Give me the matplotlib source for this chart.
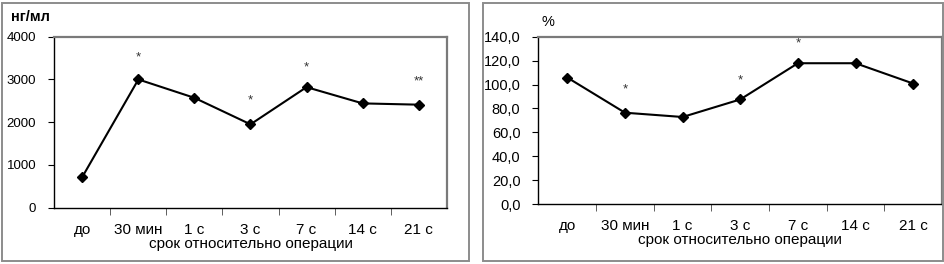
import matplotlib.pyplot as plt
import matplotlib.patches as mpatches
from matplotlib.ticker import FixedLocator, NullFormatter
import numpy as np

plt.rcParams['font.family'] = ['Liberation Sans', 'DejaVu Sans']

categories = ['до', '30 мин', '1 с', '3 с', '7 с', '14 с', '21 с']
conc = [720, 3000, 2570, 1950, 2820, 2440, 2410]
pct = [105.8, 76.4, 72.8, 87.5, 117.8, 117.8, 100.8]

conc_marks = ['', '*', '', '*', '*', '', '**']
conc_mark_y = [0, 3520, 0, 2510, 3270, 0, 2960]
pct_marks = ['', '*', '', '*', '*', '', '']
pct_mark_y = [0, 96, 0, 103, 134, 0, 0]

W, H = 945, 264
fig = plt.figure(figsize=(W / 100, H / 100), dpi=100)
fig.patch.set_facecolor('white')


def px(x0, y0, x1, y1):
    # pixel box (top-left origin) -> figure fraction rect
    return [x0 / W, 1 - y1 / H, (x1 - x0) / W, (y1 - y0) / H]


# outer frames of the two panels
for x0, x1 in [(2, 469), (483, 943)]:
    fig.patches.append(mpatches.Rectangle((x0 / W, 1 - 261 / H), (x1 - x0) / W, 258 / H,
                                          transform=fig.transFigure, fill=False,
                                          edgecolor='#8c8c8c', lw=1.4))


def panel(rect, vals, ylim, yticks, yfmt, marks, mark_y, ylab_size, unit, unit_pos, unit_bold):
    ax = fig.add_axes(rect)
    x = np.arange(len(categories))
    ax.plot(x, vals, color='black', lw=1.5, marker='D', ms=5.5, zorder=3, clip_on=False)
    for xi, m, my in zip(x, marks, mark_y):
        if m:
            ax.text(xi, my, m, ha='center', va='center', fontsize=9.5, color='#333333')
    ax.set_xlim(-0.5, len(categories) - 0.5)
    ax.set_ylim(*ylim)
    ax.set_yticks(yticks)
    ax.set_yticklabels([yfmt(v) for v in yticks], fontsize=ylab_size)
    ax.set_xticks(x)
    ax.set_xticklabels(categories, fontsize=11)
    ax.xaxis.set_minor_locator(FixedLocator(np.arange(0.5, len(categories) - 1, 1.0)))
    ax.xaxis.set_minor_formatter(NullFormatter())
    ax.tick_params(axis='x', which='major', length=0, pad=11)
    ax.tick_params(axis='x', which='minor', length=5, direction='out', color='#444444')
    ax.tick_params(axis='y', length=4, direction='out', pad=9)
    ax.set_xlabel('срок относительно операции', fontsize=11, labelpad=0)
    for s in ['left', 'bottom']:
        ax.spines[s].set_color('black')
        ax.spines[s].set_linewidth(1.0)
    for s in ['top', 'right']:
        ax.spines[s].set_color('#7a7a7a')
        ax.spines[s].set_linewidth(1.6)
    fig.text(unit_pos[0] / W, 1 - unit_pos[1] / H, unit, fontsize=10.5,
             fontweight='bold' if unit_bold else 'normal', va='center', ha='left')
    return ax


panel(px(54.3, 36.7, 446.7, 207.7), conc, (0, 4000), [0, 1000, 2000, 3000, 4000],
      lambda v: '%d' % v, conc_marks, conc_mark_y, 9.5, 'нг/мл', (11, 17), True)

panel(px(538.5, 36.7, 942, 204), pct, (0, 140), list(range(0, 141, 20)),
      lambda v: ('%.1f' % v).replace('.', ','), pct_marks, pct_mark_y, 10.5, '%', (542, 22), False)

fig.savefig('out.png', dpi=100, facecolor='white')
